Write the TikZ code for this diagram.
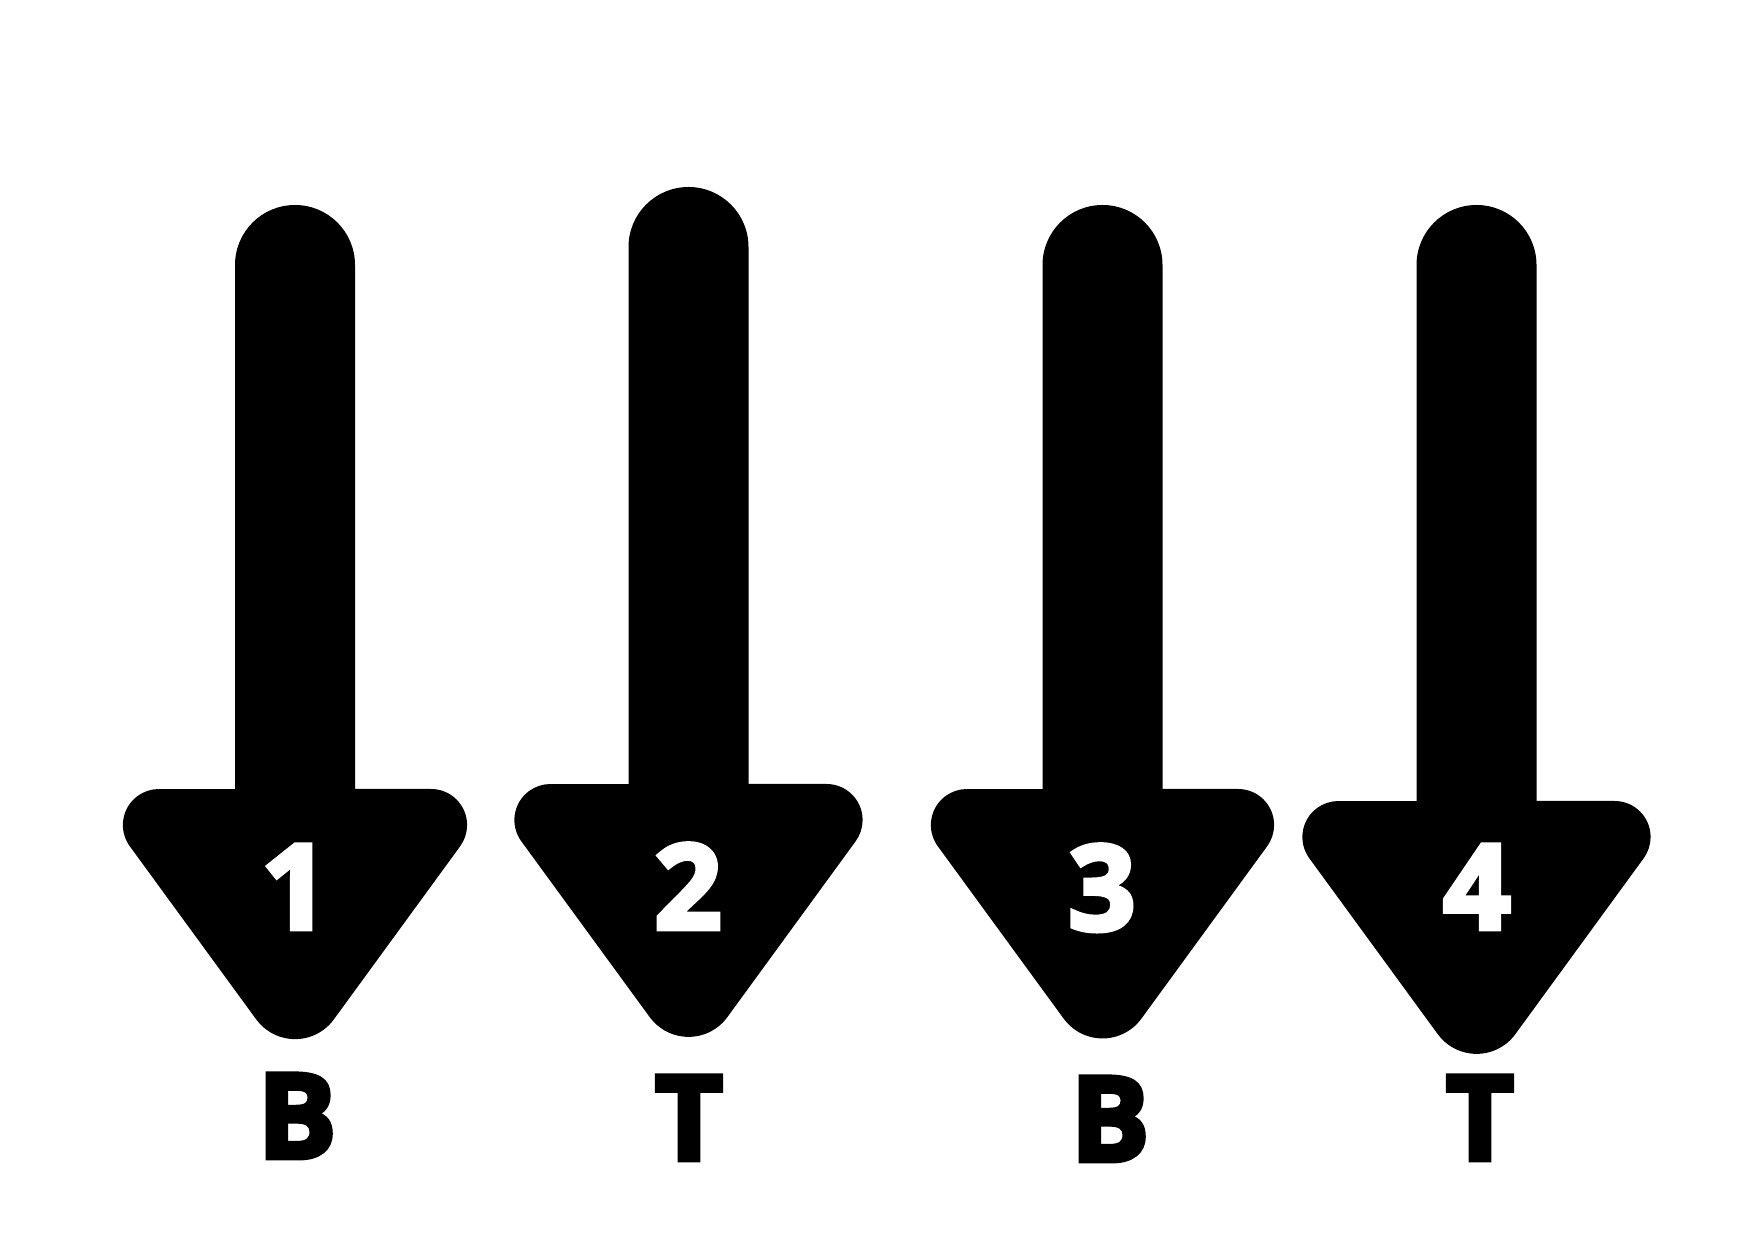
\documentclass[tikz,border=0pt]{standalone}
\usepackage{fontspec}
\IfFontExistsTF{Open Sans ExtraBold}
  {\newfontfamily\labfont{Open Sans ExtraBold}\newcommand\labsel{\labfont}}
  {\newfontfamily\labfont{Open Sans}[BoldFeatures={FakeBold=4}]\newcommand\labsel{\labfont\bfseries}}
% arrow: #1 = centre x, #2 = head top y, #3 = half width of sharp triangle, #4 = shaft top y
\newcommand\myarrow[4]{%
  \fill[arrowfill] (#1-60,#2-20) -- (#1-60,#4-60)
    arc[start angle=180, end angle=0, radius=60]
    -- (#1+60,#2-20) -- cycle;
  \fill[arrowfill] (#1,#2) -- (#1+#3-70.9,#2)
    arc[start angle=90, end angle=-36.13, radius=36]
    -- (#1+38.8,#2-1.37*#3+53.15)
    arc[start angle=-36.13, end angle=-143.87, radius=48]
    -- (#1-#3+70.9*0.5896,#2-70.9*0.8077)
    arc[start angle=216.13, end angle=90, radius=36]
    -- cycle;
}
\tikzset{
  arrowfill/.style={black},
  numlab/.style={text=white,anchor=base,inner sep=0pt,font=\labsel\fontsize{118}{118}\selectfont},
  letlab/.style={text=black,anchor=base,inner sep=0pt,font=\labsel\fontsize{118}{118}\selectfont}
}
\begin{document}
\begin{tikzpicture}[x=1pt,y=1pt]
\useasboundingbox[fill=white] (0,0) rectangle (1748,1240);
\myarrow{295}{451}{207}{1035}
\myarrow{688.5}{456}{209}{1053}
\myarrow{1102.5}{451}{206.5}{1035}
\myarrow{1476.5}{439}{209}{1035}
\node[numlab] (n1) at (295,311) {1};
\node[numlab] (n2) at (688,311) {2};
\node[numlab] (n3) at (1102,310) {3};
\node[numlab] (n4) at (1477,311) {4};
\node[letlab] (l1) at (297,82) {B};
\node[letlab] (l2) at (689,80) {T};
\node[letlab] (l3) at (1110,79) {B};
\node[letlab] (l4) at (1480,80) {T};
\end{tikzpicture}
\end{document}
